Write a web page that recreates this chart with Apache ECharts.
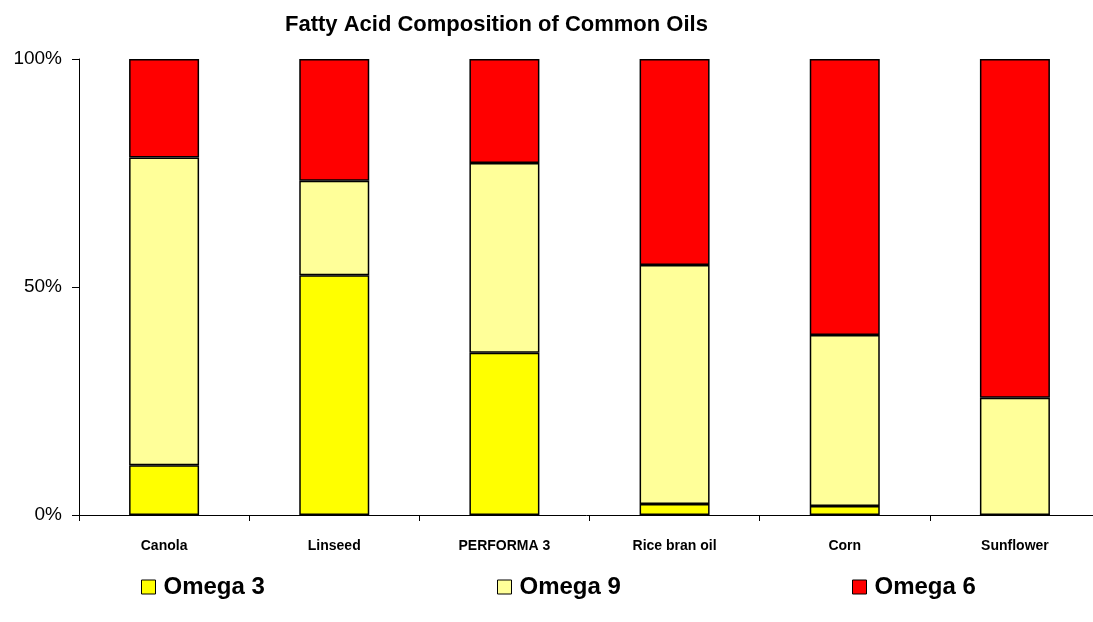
<!DOCTYPE html>
<html>
<head>
<meta charset="utf-8">
<script src="https://cdn.jsdelivr.net/npm/echarts@6/dist/echarts.min.js"></script>
<style>
  html, body { margin: 0; padding: 0; background: #fff; }
  #chart { width: 1093px; height: 622px; }
</style>
</head>
<body>
<div id="chart"></div>
<script>
// data (percent of total)
const oils = ['Canola', 'Linseed', 'PERFORMA 3', 'Rice bran oil', 'Corn', 'Sunflower'];
const omega3 = [10.9, 52.6, 35.6, 2.4, 2.0, 0];
const omega9 = [67.5, 20.7, 41.6, 52.4, 37.5, 25.7];
const omega6 = [21.6, 26.7, 22.8, 45.2, 60.5, 74.3];
const yTicks = [0, 50, 100];

const font = 'Arial, "Liberation Sans", sans-serif';
const colors = { 'Omega 3': '#ffff00', 'Omega 9': '#ffff99', 'Omega 6': '#ff0000' };

function makeSeries(name, values) {
  return {
    name: name,
    type: 'bar',
    stack: 'total',
    barWidth: 70,
    data: values,
    itemStyle: {
      color: colors[name],
      borderColor: '#000',
      borderWidth: 1.5
    }
  };
}

// one legend per item so they sit at the same spots as the original
function makeLegend(name, left) {
  return {
    data: [name],
    left: left,
    top: 570,
    icon: 'rect',
    itemWidth: 14,
    itemHeight: 14,
    itemStyle: { borderColor: '#000', borderWidth: 1 },
    textStyle: { fontFamily: font, fontWeight: 'bold', fontSize: 24, color: '#000', padding: [0, 0, 0, 3] }
  };
}

const chart = echarts.init(document.getElementById('chart'));
chart.setOption({
  animation: false,
  title: {
    text: 'Fatty Acid Composition of Common Oils',
    left: 280,
    top: 9,
    textStyle: { fontFamily: font, fontWeight: 'bold', fontSize: 22, color: '#000' }
  },
  legend: [
    makeLegend('Omega 3', 136),
    makeLegend('Omega 9', 492),
    makeLegend('Omega 6', 847)
  ],
  // plot runs a little past the right edge, like the original
  grid: { left: 79, width: 1021, top: 59, bottom: 107, outerBoundsMode: 'none', containLabel: false },
  xAxis: {
    type: 'category',
    data: oils,
    axisLine: { lineStyle: { color: '#000', width: 1 } },
    axisTick: { show: true, alignWithLabel: false, interval: 0, length: 6, lineStyle: { color: '#000' } },
    axisLabel: { fontFamily: font, fontWeight: 'bold', fontSize: 14, color: '#000', margin: 24, interval: 0 }
  },
  yAxis: {
    type: 'value',
    min: yTicks[0],
    max: yTicks[yTicks.length - 1],
    interval: yTicks[1] - yTicks[0],
    splitLine: { show: false },
    axisLine: { show: true, lineStyle: { color: '#000', width: 1 } },
    axisTick: { show: true, length: 7, lineStyle: { color: '#000' } },
    axisLabel: { fontFamily: font, fontSize: 19, color: '#000', margin: 17, formatter: '{value}%' }
  },
  series: [
    makeSeries('Omega 3', omega3),
    makeSeries('Omega 9', omega9),
    makeSeries('Omega 6', omega6)
  ]
});
</script>
</body>
</html>
